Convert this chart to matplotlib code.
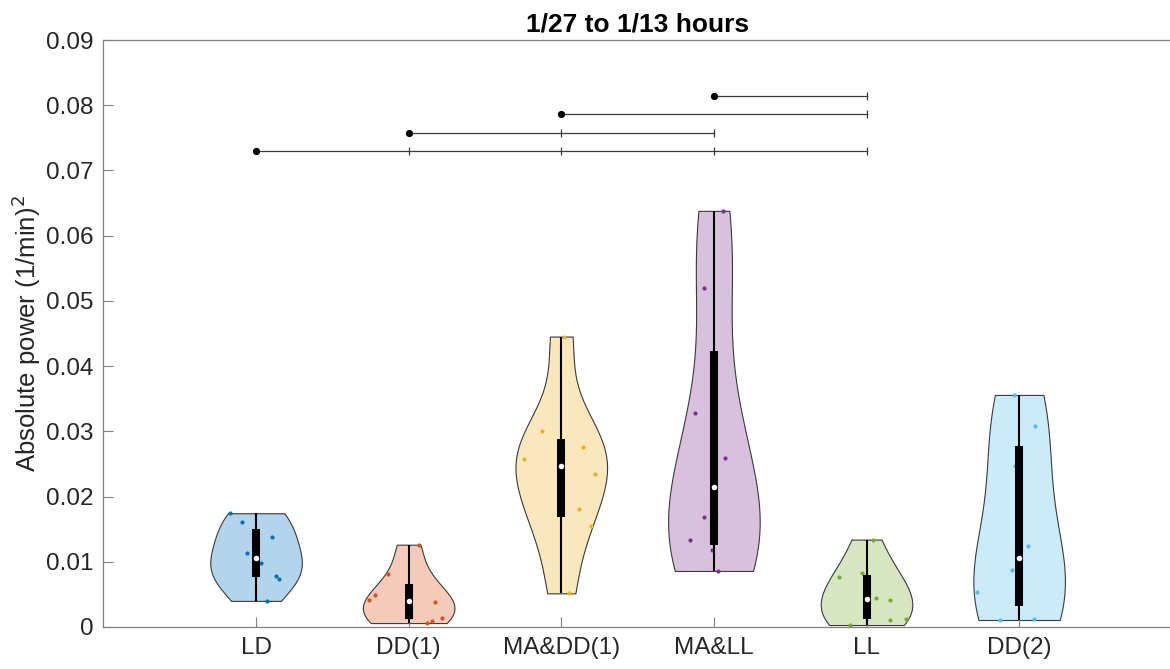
import numpy as np
import matplotlib.pyplot as plt

plt.rcParams['font.family'] = ['Liberation Sans', 'DejaVu Sans']

groups = ['LD', 'DD(1)', 'MA&DD(1)', 'MA&LL', 'LL', 'DD(2)']

ld = [0.01744, 0.01615, 0.01375, 0.0113, 0.0098, 0.0078, 0.0074, 0.0040]
dd1 = [0.01262, 0.00818, 0.0049, 0.0041, 0.0038, 0.0014, 0.0009, 0.0006]
madd1 = [0.04453, 0.0301, 0.02756, 0.02582, 0.02347, 0.01815, 0.01554, 0.00516]
mall = [0.0638, 0.0520, 0.03277, 0.02587, 0.01692, 0.01334, 0.0118, 0.00859]
ll = [0.0134, 0.0077, 0.0083, 0.0045, 0.0042, 0.0013, 0.0010, 0.0003]
dd2 = [0.03558, 0.03083, 0.02469, 0.01242, 0.00874, 0.00532, 0.00107, 0.00118]
data = [ld, dd1, madd1, mall, ll, dd2]

# horizontal jitter of each dot (x units)
jitter = [
    [-0.17, -0.094, 0.103, -0.061, 0.033, 0.129, 0.153, 0.070],
    [0.067, -0.133, -0.221, -0.260, 0.172, 0.216, 0.155, 0.118],
    [0.015, -0.125, 0.142, -0.242, 0.223, 0.118, 0.197, 0.050],
    [0.057, -0.067, -0.125, 0.072, -0.066, -0.157, -0.011, 0.028],
    [0.041, -0.182, -0.031, 0.064, 0.153, 0.256, 0.151, -0.105],
    [-0.035, 0.103, -0.024, 0.059, -0.044, -0.275, -0.126, 0.096],
]

# significance brackets: start group -> groups it differs from
sig_start = [1, 2, 3, 4]
sig_targets = [[2, 3, 4, 5], [3, 4], [5], [5]]

colors = [(0, 0.447, 0.741), (0.85, 0.325, 0.098), (0.929, 0.694, 0.125),
          (0.494, 0.184, 0.556), (0.466, 0.674, 0.188), (0.301, 0.745, 0.933)]


def ksdensity_bw(kde):
    # MATLAB ksdensity default bandwidth (robust normal rule)
    x = kde.dataset[0]
    n = len(x)
    sig = np.median(np.abs(x - np.median(x))) / 0.6745
    bw = sig * (4 / (3 * n)) ** 0.2
    return bw / np.std(x, ddof=1)


fig = plt.figure(figsize=(11.7, 6.69), dpi=100)
ax = fig.add_axes([0.0884, 0.0628, 0.9131, 0.8774])

pos = np.arange(1, len(groups) + 1)
parts = ax.violinplot(data, positions=pos, widths=0.6, bw_method=ksdensity_bw,
                      showextrema=False, points=200)
for body, c in zip(parts['bodies'], colors):
    fill = tuple(0.3 * np.array(c) + 0.7)
    body.set_alpha(None)
    body.set_facecolor(fill)
    body.set_edgecolor('#3a3a3a')
    body.set_linewidth(0.8)
    body.set_zorder(1)

for i, (d, c) in enumerate(zip(data, colors)):
    d = np.array(d)
    xp = pos[i] + np.array(jitter[i])
    ax.scatter(xp, d, s=9, color=c, zorder=2, linewidths=0)
    q1, med, q3 = np.quantile(d, [0.25, 0.5, 0.75], method='hazen')
    iqr = q3 - q1
    lo = max(q1 - 1.5 * iqr, d.min())
    hi = min(q3 + 1.5 * iqr, d.max())
    ax.vlines(pos[i], lo, hi, color='black', lw=1.5, zorder=3)
    ax.vlines(pos[i], q1, q3, color='black', lw=5.8, zorder=4)
    ax.scatter([pos[i]], [med], s=16, color='white', zorder=5, linewidths=0)

base, step = 0.0730, 0.00279
for k, (s, tg) in enumerate(zip(sig_start, sig_targets)):
    y = base + k * step
    ax.plot([s, max(tg)], [y, y], color='#3a3a3a', lw=0.9, zorder=2)
    ax.plot(tg, [y] * len(tg), ls='none', marker='|', ms=6, mew=0.9,
            color='#3a3a3a', zorder=2)
    ax.plot([s], [y], ls='none', marker='o', ms=4.2, color='black', zorder=3)

ax.set_xlim(0, 7)
ax.set_ylim(0, 0.09)
ax.set_xticks(pos)
ax.set_xticklabels(groups)
ax.set_yticks(np.arange(0, 0.0901, 0.01))
ax.set_yticklabels(['0'] + ['%.2f' % v for v in np.arange(0.01, 0.0901, 0.01)])
ax.tick_params(direction='in', length=7, width=0.8, colors='#808080',
               labelcolor='#262626', labelsize=17.5, pad=7)
for sp in ax.spines.values():
    sp.set_color('#808080')
    sp.set_linewidth(0.9)
ax.set_ylabel('Absolute power (1/min)$^2$', fontsize=18.5, color='#262626',
              labelpad=2)
ax.set_title('1/27 to 1/13 hours', fontsize=19, fontweight='bold', pad=6)

fig.savefig('out.png', dpi=100)
